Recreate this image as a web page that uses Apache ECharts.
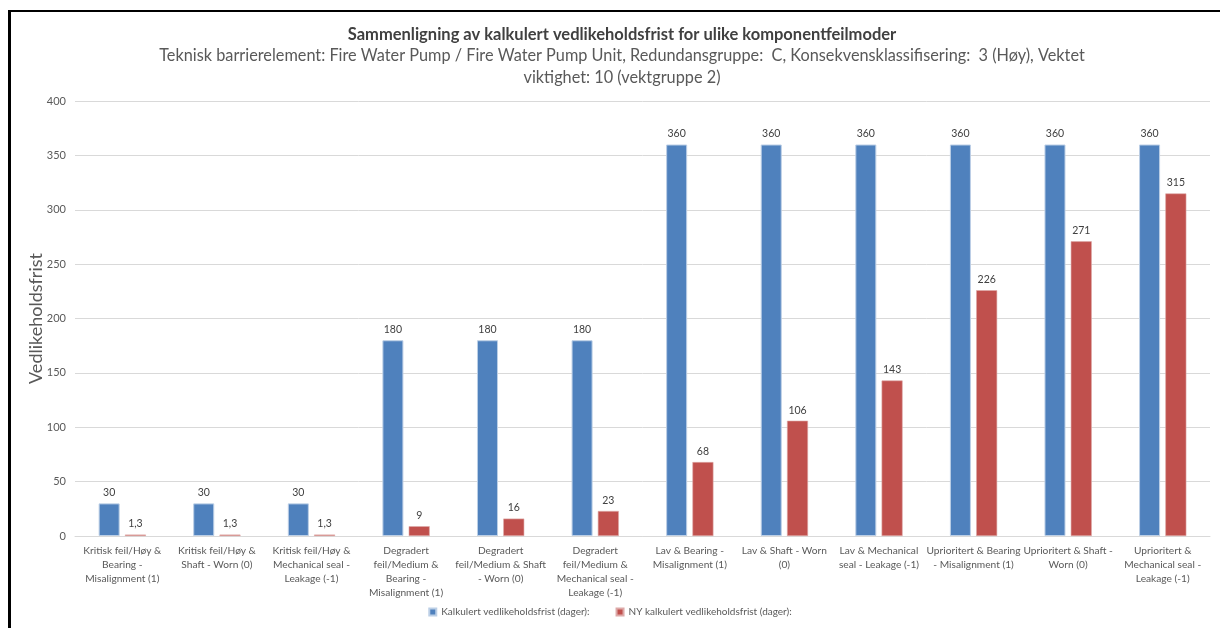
<!DOCTYPE html>
<html>
<head>
<meta charset="utf-8">
<script src="https://cdn.jsdelivr.net/npm/echarts@6/dist/echarts.min.js"></script>
<style>
    html, body { margin: 0; padding: 0; background: #fff; }
    #frame { position: absolute; left: 8px; top: 10px; width: 1212px; height: 618px;
             border-top: 2px solid #000; border-left: 3px solid #000; box-sizing: border-box; }
    #chart { position: absolute; left: 0; top: 0; width: 1220px; height: 628px; }
</style>
</head>
<body>
<div id="frame"></div>
<div id="chart"></div>
<script>
    // kategorier (feilmodus-kombinasjoner)
    var categories = [
        'Kritisk feil/Høy &\nBearing -\nMisalignment (1)',
        'Kritisk feil/Høy &\nShaft - Worn (0)',
        'Kritisk feil/Høy &\nMechanical seal -\nLeakage (-1)',
        'Degradert\nfeil/Medium &\nBearing -\nMisalignment (1)',
        'Degradert\nfeil/Medium & Shaft\n- Worn (0)',
        'Degradert\nfeil/Medium &\nMechanical seal -\nLeakage (-1)',
        'Lav & Bearing -\nMisalignment (1)',
        'Lav & Shaft - Worn\n(0)',
        'Lav & Mechanical\nseal - Leakage (-1)',
        'Uprioritert & Bearing\n- Misalignment (1)',
        'Uprioritert & Shaft -\nWorn (0)',
        'Uprioritert &\nMechanical seal -\nLeakage (-1)'
    ];
    var kalkulert = [30, 30, 30, 180, 180, 180, 360, 360, 360, 360, 360, 360];
    var nyKalkulert = [1.3, 1.3, 1.3, 9, 16, 23, 68, 106, 143, 226, 271, 315];
    var yTicks = [0, 50, 100, 150, 200, 250, 300, 350, 400];

    var seriesNames = ['Kalkulert vedlikeholdsfrist (dager):', 'NY kalkulert vedlikeholdsfrist (dager):'];
    var font = 'Lato, "Open Sans", sans-serif';

    var chart = echarts.init(document.getElementById('chart'));

    function fmtLabel(p) {
        return String(p.value).replace('.', ',');
    }

    chart.setOption({
        animation: false,
        textStyle: {fontFamily: font},
        title: {
            text: 'Sammenligning av kalkulert vedlikeholdsfrist for ulike komponentfeilmoder',
            subtext: 'Teknisk barrierelement: Fire Water Pump / Fire Water Pump Unit, Redundansgruppe:  C, Konsekvensklassifisering:  3 (Høy), Vektet\nviktighet: 10 (vektgruppe 2)',
            left: 617,
            textAlign: 'center',
            top: 21,
            itemGap: 2,
            textStyle: {fontFamily: font, fontSize: 16.5, fontWeight: 'bold', color: '#404040'},
            subtextStyle: {fontFamily: font, fontSize: 16.3, color: '#595959', lineHeight: 22}
        },
        legend: {
            bottom: 6,
            left: 'center',
            itemWidth: 7,
            itemHeight: 7,
            itemGap: 26,
            icon: 'rect',
            textStyle: {fontFamily: font, fontSize: 10, color: '#595959'},
            data: seriesNames
        },
        grid: {left: 75, right: 10, top: 101, bottom: 92, containLabel: false},
        xAxis: {
            type: 'category',
            data: categories,
            axisLine: {lineStyle: {color: '#d9d9d9'}},
            axisTick: {show: false},
            axisLabel: {
                interval: 0,
                fontSize: 10.2,
                lineHeight: 14,
                color: '#595959',
                margin: 8,
                fontFamily: font
            }
        },
        yAxis: {
            type: 'value',
            min: yTicks[0],
            max: yTicks[yTicks.length - 1],
            interval: 50,
            name: 'Vedlikeholdsfrist',
            nameLocation: 'middle',
            nameRotate: 90,
            nameGap: 30,
            nameMoveOverlap: false,
            nameTextStyle: {fontFamily: font, fontSize: 18, color: '#595959'},
            axisLine: {show: false},
            axisTick: {show: false},
            axisLabel: {fontSize: 11, color: '#595959', margin: 9, fontFamily: font},
            splitLine: {lineStyle: {color: '#d9d9d9'}}
        },
        series: [
            {
                name: seriesNames[0],
                type: 'bar',
                data: kalkulert,
                barGap: '25%',
                barCategoryGap: '50%',
                itemStyle: {color: '#4F81BD', borderColor: '#BCCFE6', borderWidth: 1},
                label: {show: true, position: 'top', fontSize: 10.5, color: '#404040', distance: 5, formatter: fmtLabel}
            },
            {
                name: seriesNames[1],
                type: 'bar',
                data: nyKalkulert,
                itemStyle: {color: '#C0504D', borderColor: '#DDA9A8', borderWidth: 0.6},
                label: {show: true, position: 'top', fontSize: 10.5, color: '#404040', distance: 5, formatter: fmtLabel}
            }
        ]
    });
</script>
</body>
</html>
